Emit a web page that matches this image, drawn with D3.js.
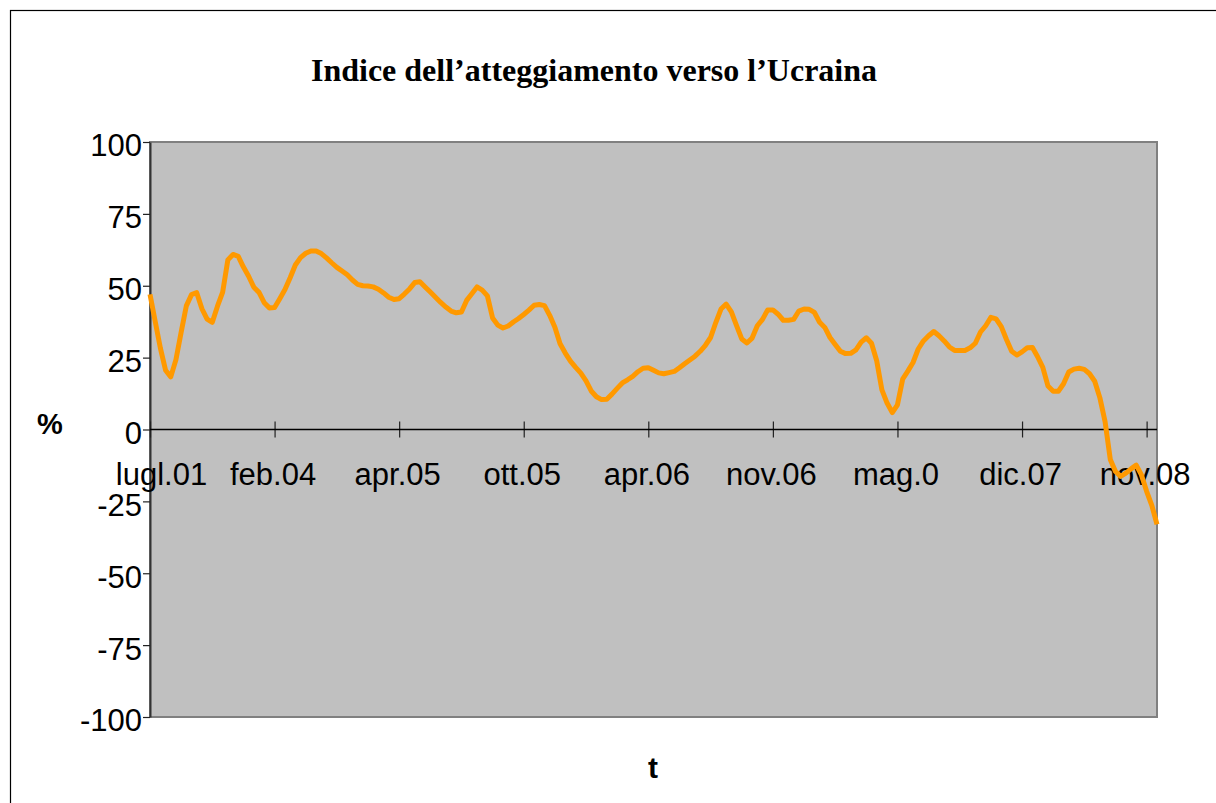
<!DOCTYPE html>
<html>
<head>
<meta charset="utf-8">
<script src="https://cdn.jsdelivr.net/npm/d3@7"></script>
<style>
  body { margin: 0; background: #fff; }
  svg { display: block; }
</style>
</head>
<body>
<script>
// survey waves, one label every 24 waves
const xLabels = ["lugl.01", "feb.04", "apr.05", "ott.05", "apr.06", "nov.06", "mag.0", "dic.07", "nov.08"];
const labelStep = 24;
const yTicks = [-100, -75, -50, -25, 0, 25, 50, 75, 100];

// index values (%), one per wave
const values = [
  47, 37.6, 28.3, 20.6, 18.3, 24.3, 33.8, 43, 46.9, 47.6,
  42, 38.4, 37.3, 42.9, 47.8, 59, 60.9, 60.2, 56.5, 53.3,
  49.5, 47.7, 44.1, 42.3, 42.4, 45.5, 48.7, 52.8, 57.2, 59.8,
  61.3, 62.1, 62.1, 61.2, 59.7, 58, 56.4, 55.1, 53.8, 52,
  50.5, 50, 49.9, 49.6, 48.8, 47.5, 46, 45.2, 45.5, 47.1,
  48.9, 51.1, 51.4, 49.6, 47.8, 46, 44.2, 42.6, 41.2, 40.6,
  40.9, 44.9, 47.2, 49.6, 48.5, 46.5, 38.8, 36.3, 35.3, 36,
  37.4, 38.6, 40, 41.5, 43.2, 43.5, 43.1, 39.7, 35.6, 29.8,
  26.6, 23.8, 21.6, 19.6, 16.9, 13.4, 11.4, 10.4, 10.5, 12.3,
  14.3, 16.2, 17.3, 18.5, 20.1, 21.3, 21.5, 20.6, 19.7, 19.4,
  19.8, 20.2, 21.5, 22.9, 24.2, 25.5, 27.2, 29.3, 32, 37.2,
  41.9, 43.6, 40.9, 36.1, 31.5, 30.1, 31.8, 36.1, 38.3, 41.6,
  41.6, 40.1, 38, 38, 38.3, 41.2, 41.9, 41.8, 40.7, 37.3,
  35.5, 32, 29.6, 27.2, 26.4, 26.5, 27.7, 30.4, 31.9, 30,
  23.9, 13.8, 9.2, 5.9, 8.6, 17.5, 20.3, 23.3, 28, 30.8,
  32.6, 34.1, 32.6, 30.8, 28.7, 27.5, 27.5, 27.5, 28.4, 30,
  33.9, 36.1, 39, 38.5, 35.8, 31.3, 27.2, 25.9, 27, 28.4,
  28.5, 25.3, 21.6, 15.1, 13.3, 13.3, 15.9, 20, 21, 21.3,
  20.9, 19.4, 16.8, 11, 2.7, -10.4, -14.6, -16.3, -15.2, -13.7,
  -12.4, -15.8, -21.5, -26.4, -33
];

const width = 1216, height = 803;
const plot = { left: 150, top: 142, right: 1157, bottom: 717 };

const svg = d3.select("body").append("svg")
  .attr("width", width)
  .attr("height", height);

// outer frame (right and bottom edges fall outside the window)
svg.append("rect")
  .attr("x", 10.5).attr("y", 10.5)
  .attr("width", 1300).attr("height", 900)
  .attr("fill", "#fff")
  .attr("stroke", "#000")
  .attr("stroke-width", 1.2);

const x = d3.scaleLinear().domain([0, values.length - 1]).range([plot.left, plot.right]);
const y = d3.scaleLinear().domain([-100, 100]).range([plot.bottom, plot.top]);

// plot area
svg.append("rect")
  .attr("x", plot.left).attr("y", plot.top)
  .attr("width", plot.right - plot.left)
  .attr("height", plot.bottom - plot.top)
  .attr("fill", "#c0c0c0")
  .attr("stroke", "#808080")
  .attr("stroke-width", 2);

// y axis
const yAxis = svg.append("g")
  .attr("transform", `translate(${plot.left},0)`)
  .call(d3.axisLeft(y).tickValues(yTicks).tickSize(7).tickSizeOuter(0).tickFormat(d => String(d)));
yAxis.select(".domain").attr("stroke", "#333").attr("stroke-width", 2);
yAxis.selectAll(".tick line").attr("stroke", "#222").attr("stroke-width", 1.2);
yAxis.selectAll(".tick text")
  .attr("x", -8)
  .attr("dy", "0.45em")
  .attr("fill", "#000")
  .style("font-family", "'Liberation Sans', Arial, sans-serif")
  .style("font-size", "31px");

// x axis on the zero line, ticks crossing it
const tickIdx = xLabels.map((d, i) => i * labelStep);
const xAxis = svg.append("g")
  .attr("transform", `translate(0,${y(0) - 8})`)
  .call(d3.axisBottom(x).tickValues(tickIdx).tickSize(16).tickFormat((d, i) => xLabels[i]));
xAxis.select(".domain").remove();
xAxis.selectAll(".tick line").attr("stroke", "#222").attr("stroke-width", 1.2);
xAxis.selectAll(".tick text")
  .attr("y", 41)
  .attr("dy", "0.71em")
  .attr("dx", (d, i) => i === 0 ? 11 : -2)
  .attr("fill", "#000")
  .style("font-family", "'Liberation Sans', Arial, sans-serif")
  .style("font-size", "31px");

svg.append("line")
  .attr("x1", plot.left).attr("x2", plot.right)
  .attr("y1", y(0)).attr("y2", y(0))
  .attr("stroke", "#000")
  .attr("stroke-width", 1.5);

// series
const line = d3.line()
  .x((d, i) => x(i))
  .y(d => y(d));

svg.append("path")
  .datum(values)
  .attr("d", line)
  .attr("fill", "none")
  .attr("stroke", "#ff9900")
  .attr("stroke-width", 5)
  .attr("stroke-linejoin", "round");

// titles
svg.append("text")
  .attr("x", 594).attr("y", 81)
  .attr("text-anchor", "middle")
  .style("font-family", "'Liberation Serif', 'Times New Roman', serif")
  .style("font-weight", "bold")
  .style("font-size", "32px")
  .text("Indice dell’atteggiamento verso l’Ucraina");

svg.append("text")
  .attr("x", 50).attr("y", 434)
  .attr("text-anchor", "middle")
  .style("font-family", "'Liberation Sans', Arial, sans-serif")
  .style("font-weight", "bold")
  .style("font-size", "29px")
  .text("%");

svg.append("text")
  .attr("x", 653).attr("y", 778)
  .attr("text-anchor", "middle")
  .style("font-family", "'Liberation Sans', Arial, sans-serif")
  .style("font-weight", "bold")
  .style("font-size", "30px")
  .text("t");
</script>
</body>
</html>
